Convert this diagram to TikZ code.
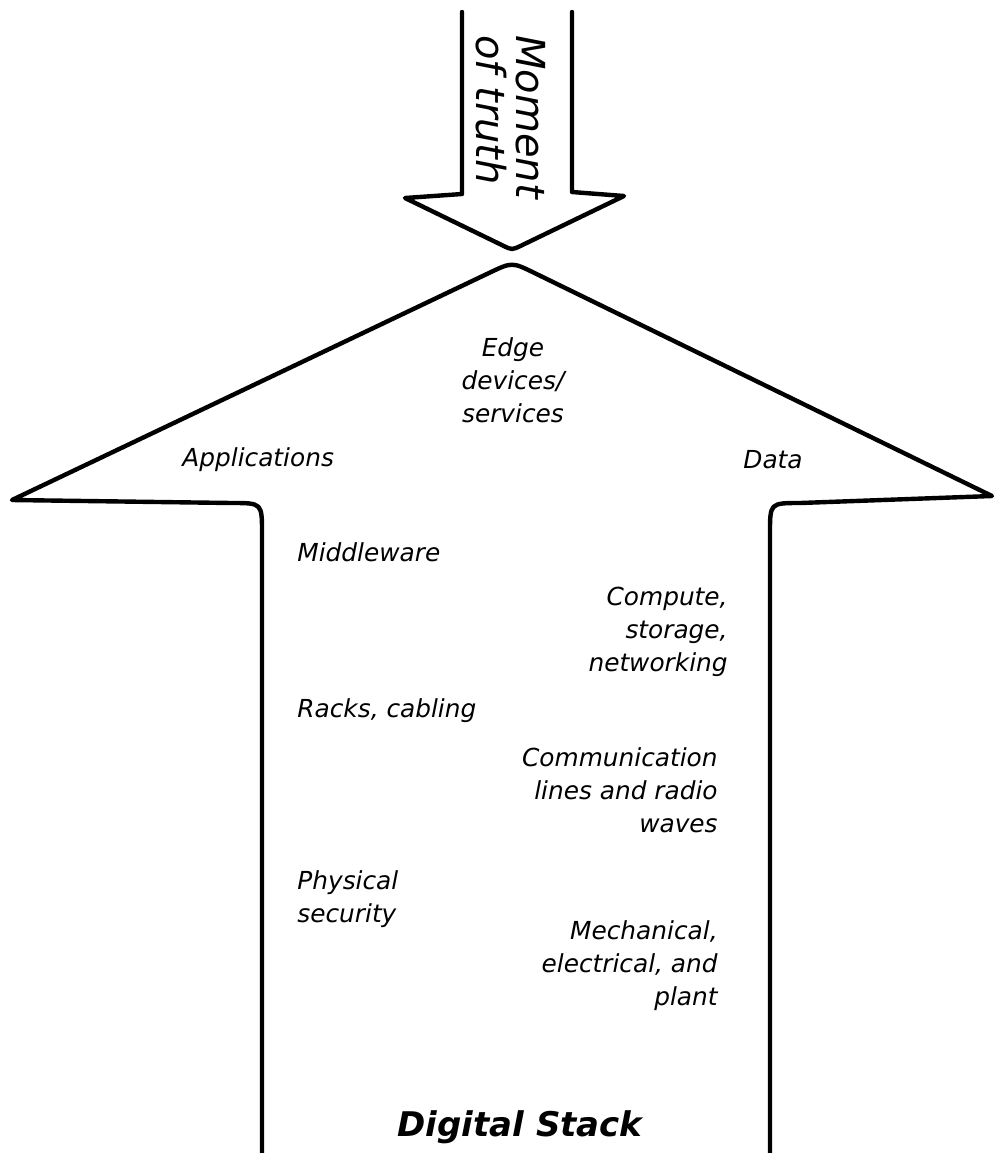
\documentclass[tikz,border=0pt]{standalone}
\usepackage{fontspec}
\setmainfont{DejaVu Sans}
\usepackage{tikz}
\usetikzlibrary{positioning, calc}

\tikzset{
    outline/.style={black, line width=2.2pt, line join=round, line cap=round},
    stacktext/.style={font=\fontsize{12.4}{16.5}\selectfont\itshape, inner sep=0pt},
}

\begin{document}
\begin{tikzpicture}[x=0.5pt, y=-0.5pt]
        \useasboundingbox (0,0) rectangle (996,1153);

        % small arrow coming down
        \coordinate (SL) at (462,12);
        \coordinate (SR) at (572,12);
        \coordinate (HL) at (405,198);
        \coordinate (HR) at (624,196);
        \coordinate (TIP) at (512,250);

        \draw[outline] (SL) -- (462,194) -- (HL) -- (503,245.6)
            .. controls (TIP) .. (521,245.7) -- (HR) -- (572,192) -- (SR);

        \node[font=\fontsize{20}{20}\selectfont\itshape, rotate=-90, align=left, inner sep=0pt]
            (truth) at (511,117) {Moment\\of truth};

        % big arrow going up
        \coordinate (BL) at (262,1160);
        \coordinate (BR) at (770,1160);
        \coordinate (WL) at (12,500);
        \coordinate (WR) at (992,496);
        \coordinate (APEX) at (512,262);

        \draw[outline] (BL) -- (262,533) .. controls (262,503) .. (232,503) -- (WL)
            -- (489.4,272.8) .. controls (APEX) .. (534.5,273) -- (WR)
            -- (800,503) .. controls (770,503) .. (770,533) -- (BR);

        % labels
        \node[stacktext, align=center] (edge) at (513,380) {Edge\\devices/\\services};
        \node[stacktext, anchor=west] (apps) at (182,460) {Applications};
        \node[stacktext, anchor=west] (data) at (743,460) {Data};
        \node[stacktext, anchor=west] (middle) at (297,552) {Middleware};
        \node[stacktext, anchor=east, align=right] (compute) at (728,632) {Compute,\\storage,\\networking};
        \node[stacktext, anchor=west] (racks) at (297,711) {Racks, cabling};
        \node[stacktext, anchor=east, align=right] (comms) at (718,790) {Communication\\lines and radio\\waves};
        \node[stacktext, anchor=west, align=left] (security) at (297,899) {Physical\\security};
        \node[stacktext, anchor=east, align=right] (plant) at (718,966) {Mechanical,\\electrical, and\\plant};

        \node[font=\fontsize{17}{20}\selectfont\bfseries\itshape, inner sep=0pt] (title) at (520,1127) {Digital Stack};
    \end{tikzpicture}
\end{document}
